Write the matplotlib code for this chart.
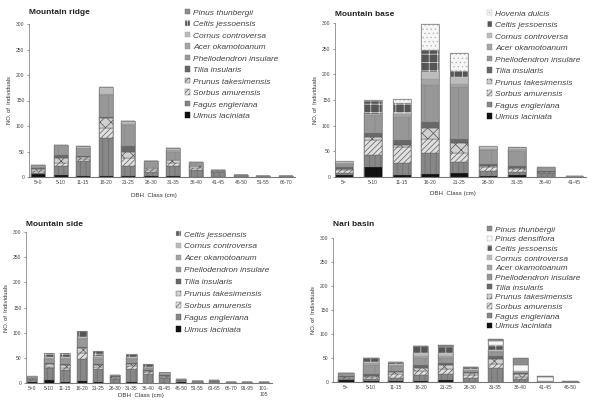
import matplotlib
matplotlib.use("Agg")
import matplotlib.pyplot as plt
from matplotlib.patches import Patch

plt.rcParams['font.family'] = ['Liberation Sans', 'DejaVu Sans']
plt.rcParams['hatch.linewidth'] = 0.5

# ---------------- data ----------------
ridge_cats = ["5>0", "5-10", "11-15", "16-20", "21-25", "26-30", "31-35",
              "36-40", "41-45", "46-50", "51-55", "66-70"]
ridge_ulmus = [5, 4, 1, 2, 2, 1, 1, 0, 0, 0, 0, 0]
ridge_fagus = [3, 18, 30, 75, 20, 9, 20, 13, 9, 3, 2, 2]
ridge_sorbus = [4, 5, 4, 20, 15, 3, 6, 4, 3, 0, 0, 0]
ridge_prunus = [3, 11, 5, 18, 13, 4, 6, 4, 0, 0, 0, 0]
ridge_tilia = [2, 5, 2, 3, 10, 0, 0, 0, 0, 0, 0, 0]
ridge_phell = [3, 17, 14, 42, 42, 14, 17, 6, 1, 0, 0, 0]
ridge_acer = [1, 1, 1, 3, 2, 0, 2, 0, 0, 0, 0, 0]
ridge_cornus = [2, 1, 2, 12, 5, 1, 4, 2, 0, 0, 0, 0]
ridge_celtis = [0, 0, 1, 1, 0, 0, 0, 0, 0, 0, 0, 0]
ridge_pinust = [0, 1, 1, 1, 1, 0, 1, 0, 0, 0, 0, 0]

base_cats = ["5>", "5-10", "11-15", "16-20", "21-25", "26-30", "31-35", "36-40", "41-45"]
base_ulmus = [3, 20, 3, 5, 7, 2, 3, 0, 0]
base_fagus = [5, 23, 25, 41, 23, 10, 7, 7, 0]
base_sorbus = [5, 29, 30, 29, 17, 8, 6, 3, 0]
base_prunus = [3, 6, 4, 20, 20, 2, 2, 0, 0]
base_tilia = [3, 7, 10, 13, 8, 3, 3, 2, 0]
base_phell = [6, 35, 45, 72, 100, 27, 30, 5, 2]
base_acer = [2, 2, 5, 10, 7, 3, 3, 1, 0]
base_cornus = [2, 1, 2, 15, 13, 3, 3, 1, 0]
base_celtis = [1, 26, 21, 43, 11, 1, 2, 0, 0]
base_hovenia = [1, 1, 7, 50, 36, 2, 0, 0, 0]

side_cats = ["5>0", "5-10", "11-15", "16-20", "21-25", "26-30", "31-35", "36-40",
             "41-45", "46-50", "51-55", "61-65", "66-70", "91-95", "101-\n105"]
side_ulmus = [2, 5, 2, 3, 2, 0, 2, 0, 0, 1, 0, 0, 0, 0, 0]
side_fagus = [6, 24, 23, 45, 25, 8, 26, 18, 10, 4, 3, 3, 2, 2, 2]
side_sorbus = [1, 3, 4, 12, 4, 2, 5, 3, 2, 0, 0, 0, 0, 0, 0]
side_prunus = [0, 5, 6, 10, 5, 2, 5, 3, 2, 0, 0, 0, 0, 0, 0]
side_tilia = [1, 3, 3, 2, 2, 1, 2, 2, 2, 1, 0, 0, 0, 0, 0]
side_phell = [1, 8, 10, 15, 10, 2, 8, 4, 3, 1, 1, 2, 0, 0, 0]
side_acer = [1, 2, 2, 2, 3, 0, 2, 1, 1, 0, 0, 0, 0, 0, 0]
side_cornus = [1, 1, 2, 3, 3, 1, 2, 1, 0, 0, 0, 0, 0, 0, 0]
side_celtis = [0, 8, 8, 11, 9, 0, 5, 5, 2, 1, 0, 0, 0, 0, 0]

nari_cats = ["5>", "5-10", "11-15", "16-20", "21-25", "26-30", "31-35", "36-40", "41-45", "46-50"]
nari_ulmus = [4, 2, 2, 2, 5, 1, 1, 1, 0, 0]
nari_fagus = [3, 5, 6, 12, 12, 8, 28, 6, 2, 0]
nari_sorbus = [2, 4, 8, 8, 10, 6, 8, 4, 0, 0]
nari_prunus = [2, 2, 4, 8, 8, 4, 10, 6, 0, 0]
nari_tilia = [2, 3, 3, 5, 5, 2, 8, 2, 0, 0]
nari_phell = [3, 20, 10, 15, 10, 4, 8, 2, 0, 0]
nari_acer = [1, 4, 3, 5, 5, 1, 2, 1, 0, 0]
nari_cornus = [1, 2, 1, 5, 5, 1, 2, 0, 0, 0]
nari_celtis = [0, 7, 5, 15, 12, 4, 10, 0, 0, 0]
nari_pinusd = [0, 0, 0, 0, 0, 0, 8, 14, 8, 0]
nari_pinust = [0, 1, 0, 1, 6, 0, 5, 15, 3, 2]

# ---------------- styles ----------------
STY = {
    "Ulmus laciniata": dict(fc="#111111", hatch=None, ec="#111111"),
    "Fagus engleriana": dict(fc="#878787", hatch="|||", ec="#6c6c6c"),
    "Sorbus amurensis": dict(fc="#e0e0e0", hatch="//////", ec="#5e5e5e"),
    "Prunus takesimensis": dict(fc="#d0d0d0", hatch="xxx", ec="#555555"),
    "Tilia insularis": dict(fc="#686868", hatch=None, ec="#555555"),
    "Phellodendron insulare": dict(fc="#979797", hatch="|", ec="#888888"),
    "Acer okamotoanum": dict(fc="#a4a4a4", hatch=None, ec="#8e8e8e"),
    "Cornus controversa": dict(fc="#bcbcbc", hatch=None, ec="#a0a0a0"),
    "Celtis jessoensis": dict(fc="#555555", hatch="++", ec="#e0e0e0"),
    "Hovenia dulcis": dict(fc="#f6f6f6", hatch="....", ec="#b8b8b8"),
    "Pinus densiflora": dict(fc="#f8f8f8", hatch=None, ec="#a8a8a8"),
    "Pinus thunbergii": dict(fc="#8c8c8c", hatch=None, ec="#6e6e6e"),
}

fig = plt.figure(figsize=(5.92, 4.0), dpi=100)
W, H = 592.0, 400.0


def panel(rect_px, title_y, cats, series, title, xlim, leg_xy, leg_spacing, xlabel_y=None):
    x0, y0, x1, y1 = rect_px  # left, y of 0, right, y of 300 (pixels, top-origin)
    ax = fig.add_axes([x0 / W, (H - y0) / H, (x1 - x0) / W, (y0 - y1) / H])
    xs = list(range(len(cats)))
    bottom = [0] * len(cats)
    for name, vals in series:
        s = STY[name]
        ax.bar(xs, vals, width=0.62, bottom=bottom, color=s["fc"], hatch=s["hatch"],
               edgecolor=s["ec"], linewidth=0.3, zorder=2)
        bottom = [b + v for b, v in zip(bottom, vals)]
    # outline of each stack
    ax.bar(xs, bottom, width=0.62, fill=False, edgecolor="#7a7a7a", linewidth=0.5, zorder=3)
    ax.set_xlim(*xlim)
    ax.set_ylim(0, 300)
    ax.set_yticks([0, 50, 100, 150, 200, 250, 300])
    ax.set_xticks(xs)
    ax.set_xticklabels(cats)
    ax.tick_params(axis='both', labelsize=3.6, colors="#444444", length=1.2, width=0.4, pad=2)
    ax.tick_params(axis='x', length=0)
    for sp in ("top", "right"):
        ax.spines[sp].set_visible(False)
    ax.spines["left"].set_color("#888888")
    ax.spines["bottom"].set_color("#777777")
    ax.spines["left"].set_linewidth(0.6)
    ax.spines["bottom"].set_linewidth(0.8)
    ax.set_ylabel("NO. of  Individuals", fontsize=4.2, color="#333333", labelpad=3)
    if xlabel_y is not None:
        xc = (x0 + x1) / 2.0 - 8
        fig.text(xc / W, 1 - xlabel_y / H, "DBH  Class (cm)", fontsize=4.4,
                 color="#333333", ha="center", va="center")
    fig.text(x0 / W, 1 - title_y / H, title, fontsize=6.0, fontweight="bold",
             color="#222222", va="center", ha="left")
    handles = [Patch(facecolor=STY[n]["fc"], hatch=STY[n]["hatch"], edgecolor=STY[n]["ec"],
                     linewidth=0.3, label=n) for n, _ in reversed(series)]
    leg = fig.legend(handles=handles, loc="upper left",
                     bbox_to_anchor=(leg_xy[0] / W, 1 - leg_xy[1] / H),
                     frameon=False, fontsize=6, handlelength=0.6, handleheight=0.6,
                     handletextpad=0.35, labelspacing=leg_spacing, borderpad=0,
                     borderaxespad=0)
    for t in leg.get_texts():
        t.set_fontstyle("italic")
        t.set_color("#444444")
    return ax


ridge_series = [("Ulmus laciniata", ridge_ulmus), ("Fagus engleriana", ridge_fagus),
                ("Sorbus amurensis", ridge_sorbus), ("Prunus takesimensis", ridge_prunus),
                ("Tilia insularis", ridge_tilia), ("Phellodendron insulare", ridge_phell),
                ("Acer okamotoanum", ridge_acer), ("Cornus controversa", ridge_cornus),
                ("Celtis jessoensis", ridge_celtis), ("Pinus thunbergii", ridge_pinust)]
base_series = [("Ulmus laciniata", base_ulmus), ("Fagus engleriana", base_fagus),
               ("Sorbus amurensis", base_sorbus), ("Prunus takesimensis", base_prunus),
               ("Tilia insularis", base_tilia), ("Phellodendron insulare", base_phell),
               ("Acer okamotoanum", base_acer), ("Cornus controversa", base_cornus),
               ("Celtis jessoensis", base_celtis), ("Hovenia dulcis", base_hovenia)]
side_series = [("Ulmus laciniata", side_ulmus), ("Fagus engleriana", side_fagus),
               ("Sorbus amurensis", side_sorbus), ("Prunus takesimensis", side_prunus),
               ("Tilia insularis", side_tilia), ("Phellodendron insulare", side_phell),
               ("Acer okamotoanum", side_acer), ("Cornus controversa", side_cornus),
               ("Celtis jessoensis", side_celtis)]
nari_series = [("Ulmus laciniata", nari_ulmus), ("Fagus engleriana", nari_fagus),
               ("Sorbus amurensis", nari_sorbus), ("Prunus takesimensis", nari_prunus),
               ("Tilia insularis", nari_tilia), ("Phellodendron insulare", nari_phell),
               ("Acer okamotoanum", nari_acer), ("Cornus controversa", nari_cornus),
               ("Celtis jessoensis", nari_celtis), ("Pinus densiflora", nari_pinusd),
               ("Pinus thunbergii", nari_pinust)]

panel((29, 177, 295, 24), 13, ridge_cats, ridge_series, "Mountain ridge",
      (-0.4, 11.4), (185, 9), 0.47, xlabel_y=196)
panel((335, 177, 586, 23), 14, base_cats, base_series, "Mountain base",
      (-0.31, 8.4), (487, 10), 0.47, xlabel_y=194)
panel((26, 383, 272, 232), 224, side_cats, side_series, "Mountain side",
      (-0.37, 14.5), (176, 231), 0.52, xlabel_y=396)
panel((333, 382, 579, 238), 224, nari_cats, nari_series, "Nari basin",
      (-0.52, 9.36), (487, 226), 0.25)

fig.savefig("out.png", dpi=100, facecolor="white")
